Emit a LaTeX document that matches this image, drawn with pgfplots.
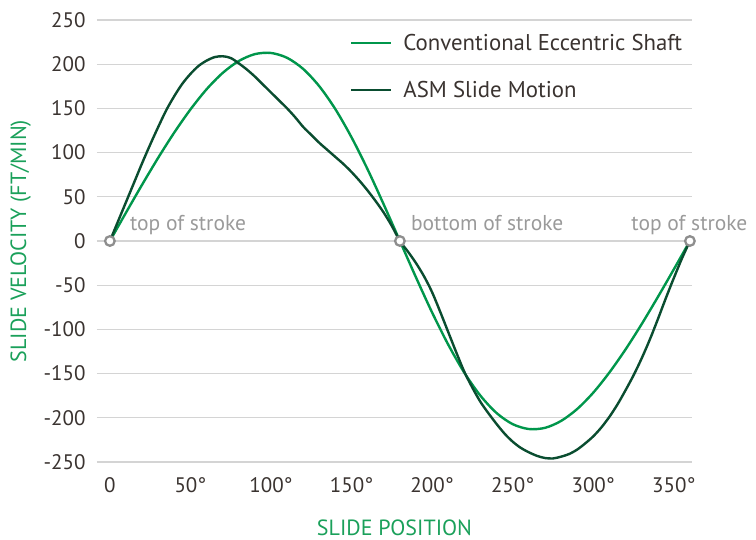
\documentclass[border=0pt]{standalone}
\usepackage{fontspec}
\setmainfont{PT Sans}
\usepackage{pgfplots}
\pgfplotsset{compat=1.18}
\definecolor{conv}{HTML}{00964B}
\definecolor{asm}{HTML}{0A4D30}
\definecolor{lblgreen}{HTML}{1AA05A}
\definecolor{tickc}{HTML}{3A3330}
\definecolor{gridc}{HTML}{D4D4D4}
\definecolor{markc}{HTML}{8E8E8E}
\definecolor{notec}{HTML}{9A9A9A}
\begin{document}
\begin{tikzpicture}
\begin{axis}[name=ax, scale only axis, width=595pt, height=442pt,
  xmin=-8, xmax=361.3, ymin=-250, ymax=250, clip=false,
  axis line style={draw=none}, major tick length=0pt, tick style={draw=none},
  ytick={-250,-200,...,250},
  yticklabels={-250,-200,-150,-100,-50,0,50,100,150,200,250},
  xtick={0,50,100,150,200,250,300,350},
  xticklabels={0,50°,100°,150°,200°,250°,300°,350°},
  ymajorgrids, grid style={gridc, line width=1.2pt},
  ticklabel style={font=\fontsize{21}{24}\selectfont, text=tickc},
  xticklabel style={yshift=-12pt},
  yticklabel style={xshift=-8pt},
  xlabel={SLIDE POSITION}, ylabel={SLIDE VELOCITY (FT/MIN)},
  label style={font=\fontsize{22}{26}\selectfont, text=lblgreen},
  xlabel style={at={(axis description cs:0.5,-0.148)}, anchor=center},
  ylabel style={at={(axis description cs:-0.128,0.5)}, anchor=center},
  legend cell align=left,
  legend style={at={(axis description cs:0.425,0.975)}, anchor=north west, draw=none, fill=none,
    font=\fontsize{22.8}{26}\selectfont, text=tickc, row sep=23pt, inner sep=0pt,
    nodes={inner sep=3pt, text=tickc}},
  legend image code/.code={\draw[#1] (0pt,0pt) -- (40pt,0pt);},
]
\addplot[conv, line width=2.4pt, smooth] coordinates {
(0,0) (10,32.1) (20,63.7) (30,94.2) (40,122.8) (50,148.8) (60,171.6) (70,190.1)
(80,203.6) (90,211.4) (100,212.7) (110,207.2) (120,194.6) (130,175.0) (140,149.0)
(150,117.2) (160,80.9) (170,41.2) (180,0) (190,-41.2) (200,-80.9) (210,-117.2)
(220,-149.0) (230,-175.0) (240,-194.6) (250,-207.2) (260,-212.7) (270,-211.4)
(280,-203.6) (290,-190.1) (300,-171.6) (310,-148.8) (320,-122.8) (330,-94.2)
(340,-63.7) (350,-32.1) (360,0)};
\addlegendentry{\hspace{8pt}Conventional Eccentric Shaft}
\addplot[asm, line width=2.4pt, smooth] coordinates {
(0,0) (5,22) (10,44) (15,66) (20,88) (25,109) (30,129) (35,148) (40,164) (45,178)
(50,189) (55,198) (60,204) (65,208) (70,209) (75,207) (80,201) (85,194) (90,186)
(95,177) (100,168) (105,159) (110,150) (115,140) (120,129) (125,120) (130,111)
(135,103) (140,95) (145,87) (150,78) (155,68) (160,57) (165,45) (170,32) (175,17)
(180,0) (185,-12) (190,-25) (195,-40) (200,-58) (205,-80) (210,-103) (215,-126)
(220,-148) (225,-166) (230,-182) (235,-195) (240,-207) (245,-218) (250,-227)
(255,-234) (260,-239) (265,-243) (270,-245.5) (275,-246) (280,-244) (285,-241)
(290,-236) (295,-229) (300,-221) (305,-211) (310,-199) (315,-185) (320,-169)
(325,-152) (330,-133) (335,-112) (340,-89) (345,-65) (350,-42) (355,-20) (360,0)};
\addlegendentry{\hspace{8pt}ASM Slide Motion}
\addplot[only marks, mark=*, mark size=4.8pt, mark options={fill=white, draw=markc, line width=2.3pt}, forget plot]
  coordinates {(0,0) (180,0) (360,0)};
\node[anchor=base west, inner sep=0pt, text=notec, font=\fontsize{21.5}{24}\selectfont, xshift=20pt, yshift=10pt] at (axis cs:0,0) {top of stroke};
\node[anchor=base west, inner sep=0pt, text=notec, font=\fontsize{21.5}{24}\selectfont, xshift=11pt, yshift=10pt] at (axis cs:180,0) {bottom of stroke};
\node[anchor=base, inner sep=0pt, text=notec, font=\fontsize{21.5}{24}\selectfont, xshift=-0.5pt, yshift=10pt] at (axis cs:360,0) {top of stroke};
\end{axis}
\pgfresetboundingbox
\path (ax.south west) ++(-97pt,-78pt) rectangle ++(756pt,540pt);
\end{tikzpicture}
\end{document}
